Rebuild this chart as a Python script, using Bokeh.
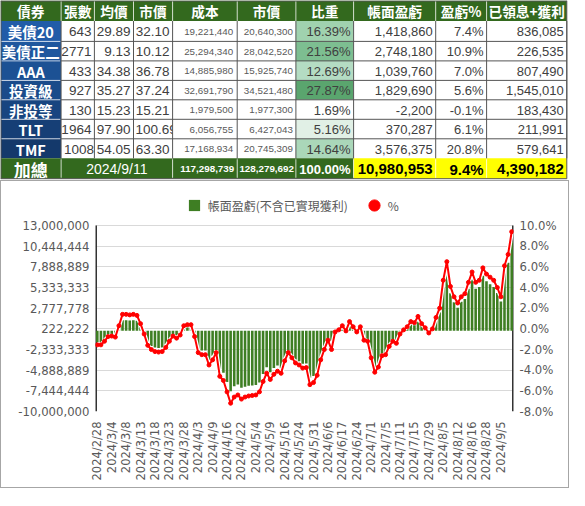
import math
from bokeh.plotting import figure
from bokeh.models import (Range1d, LinearAxis, FixedTicker, NumeralTickFormatter,
                          PrintfTickFormatter, Legend, LegendItem, ColumnDataSource)
from bokeh.layouts import column
from bokeh.embed import file_html
from bokeh.resources import INLINE
from bokeh.core.properties import value

# ---------------- table data ----------------
headers = ["債券", "張數", "均價", "市價", "成本", "市價", "比重", "帳面盈虧", "盈虧%", "已領息+獲利"]
names = ["美債20", "美債正二", "AAA", "投資級", "非投等", "TLT", "TMF"]
shares = [643, 2771, 433, 927, 130, 1964, 10084]
avg_price = [29.89, 9.13, 34.38, 35.27, 15.23, 97.90, 54.05]
mkt_price = [32.10, 10.12, 36.78, 37.24, 15.21, 100.69, 63.30]
cost = [19221440, 25294340, 14885980, 32691790, 1979500, 6056755, 17168934]
mkt_value = [20640300, 28042520, 15925740, 34521480, 1977300, 6427043, 20745309]
weight = [16.39, 21.56, 12.69, 27.87, 1.69, 5.16, 14.64]
pnl = [1418860, 2748180, 1039760, 1829690, -2200, 370287, 3576375]
pnl_pct = [7.4, 10.9, 7.0, 5.6, -0.1, 6.1, 20.8]
realized = [836085, 226535, 807490, 1545010, 183430, 211991, 579641]
total_label = "加總"
total_date = "2024/9/11"
total_cost = 117298739
total_value = 128279692
total_weight = 100.00
total_pnl = 10980953
total_pct = 9.4
total_realized = 4390182

# ---------------- chart data ----------------
date_labels = ["2024/2/28", "2024/3/4", "2024/3/8", "2024/3/13", "2024/3/18", "2024/3/23",
               "2024/3/28", "2024/4/3", "2024/4/9", "2024/4/16", "2024/4/22", "2024/5/4",
               "2024/5/9", "2024/5/16", "2024/5/24", "2024/5/31", "2024/6/6", "2024/6/17",
               "2024/6/24", "2024/7/1", "2024/7/5", "2024/7/11", "2024/7/15", "2024/7/29",
               "2024/8/5", "2024/8/12", "2024/8/16", "2024/8/28", "2024/9/5"]

pnl_series = [
    -1426000, -1426000, -1104000, -690000, -644000, -736000, 276000, 1288000, 1288000, 1242000,
    1288000, 1235000, 475000, -475000, -1520000, -1900000, -2090000, -2138000, -2090000, -1710000,
    -1140000, -686000, -882000, -588000, 294000, 392000, 392000, -735000, -2254000, -2450000,
    -2450000, -3640000, -3120000, -2392000, -4784000, -5200000, -6344000, -7488000, -6864000, -6656000,
    -7072000, -6930000, -6825000, -6773000, -6720000, -6405000, -5355000, -4515000, -5145000, -4620000,
    -4305000, -4644000, -3348000, -2484000, -3024000, -3564000, -3780000, -4104000, -4050000, -5832000,
    -5616000, -4950000, -3300000, -2200000, -1210000, -2200000, -330000, -110000, 330000, -220000,
    770000, 222000, -333000, 222000, -1221000, -1332000, -3108000, -4662000, -4107000, -2886000,
    -2775000, -1904000, -1344000, -1568000, -560000, -112000, 224000, 784000, 672000, 1344000,
    560000, 113000, -452000, 0, 1243000, 2260000, 5311000, 7345000, 4633000, 3503000,
    2825000, 3565000, 3910000, 5175000, 6325000, 5175000, 5405000, 6785000, 6095000, 5750000,
    5405000, 4660000, 3612000, 7107000, 8388000, 10980953,
]
pct_series = [
    -1.55, -1.55, -1.2, -0.75, -0.7, -0.8, 0.3, 1.4, 1.4, 1.35,
    1.4, 1.3, 0.5, -0.5, -1.6, -2.0, -2.2, -2.25, -2.2, -1.8,
    -1.2, -0.7, -0.9, -0.6, 0.3, 0.4, 0.4, -0.75, -2.3, -2.5,
    -2.5, -3.5, -3.0, -2.3, -4.6, -5.0, -6.1, -7.2, -6.6, -6.4,
    -6.8, -6.6, -6.5, -6.45, -6.4, -6.1, -5.1, -4.3, -4.9, -4.4,
    -4.1, -4.3, -3.1, -2.3, -2.8, -3.3, -3.5, -3.8, -3.75, -5.4,
    -5.2, -4.5, -3.0, -2.0, -1.1, -2.0, -0.3, -0.1, 0.3, -0.2,
    0.7, 0.2, -0.3, 0.2, -1.1, -1.2, -2.8, -4.2, -3.7, -2.6,
    -2.5, -1.7, -1.2, -1.4, -0.5, -0.1, 0.2, 0.7, 0.6, 1.2,
    0.5, 0.1, -0.4, 0.0, 1.1, 2.0, 4.7, 6.5, 4.1, 3.1,
    2.5, 3.1, 3.4, 4.5, 5.5, 4.5, 4.7, 5.9, 5.3, 5.0,
    4.7, 4.0, 3.1, 6.1, 7.2, 9.4,
]
left_ticks = [-10000000, -7444444, -4888889, -2333333, 222222, 2777778,
              5333333, 7888889, 10444444, 13000000]
pct_ticks = [-8, -6, -4, -2, 0, 2, 4, 6, 8, 10]
bar_label = "帳面盈虧(不含已實現獲利)"
line_label = "%"

# ---------------- styles ----------------
HDR_GREEN = "#33691E"
NAME_BLUES = ["#215CA8", "#1F579E", "#1C5194", "#1A4B8A", "#184580", "#163F76", "#14396B"]
WEIGHT_FILLS = ["#A0D2AF", "#7DBE91", "#B4DCC3", "#5AA56E", "#FFFFFF", "#E1F0E6", "#AAD7B9"]
YELLOW = "#FFFF00"
TXT = "#404040"
TXT2 = "#595959"
CJK = "Noto Sans CJK TC"
LAT = "Liberation Sans"

TW, TH = 569, 180
CE = [0, 60.6, 93.9, 133.0, 172.1, 236.7, 295.4, 353.1, 435.2, 486.1, 566.3]
RE = [0, 20.5, 40.9, 60.4, 79.9, 99.3, 118.8, 138.3, 157.8, 178.2]

t = figure(width=TW, height=TH, x_range=Range1d(0, TW), y_range=Range1d(TH, 0),
           toolbar_location=None, output_backend="svg", min_border=0,
           x_axis_location=None, y_axis_location=None)
t.frame_align = False
t.grid.visible = False
t.outline_line_color = None
t.background_fill_color = "white"
t.border_fill_color = "white"


def rc(r):
    return (RE[r] + RE[r + 1]) / 2 + 0.5


def quads(ls, rs, ts, bs, colors):
    t.quad(left=ls, right=rs, top=ts, bottom=bs, fill_color=colors, line_color=None)


def texts(xs, ys, ss, align, font, size, color, bold=False):
    if not ss:
        return
    t.text(x=xs, y=ys, text=ss, text_align=align, text_baseline="middle",
           text_font=value(font), text_font_size=value(size), text_color=color,
           text_font_style="bold" if bold else "normal")


def fmt_int(v):
    return f"{v:,}"


for c in range(10):
    l, r = CE[c], CE[c + 1]
    mid = (l + r) / 2
    ls, rs, ts, bs, cols = [l], [r], [RE[0]], [RE[1]], [HDR_GREEN]
    for i in range(7):
        ls.append(l); rs.append(r); ts.append(RE[i + 1]); bs.append(RE[i + 2])
        if c == 0:
            cols.append(NAME_BLUES[i])
        elif c == 6:
            cols.append(WEIGHT_FILLS[i])
        else:
            cols.append("#FFFFFF")
    if c == 1:
        ls.append(CE[1]); rs.append(CE[4]); ts.append(RE[8]); bs.append(RE[9]); cols.append(HDR_GREEN)
    elif c in (2, 3):
        pass
    elif c >= 7:
        ls.append(l); rs.append(r); ts.append(RE[8]); bs.append(RE[9]); cols.append(YELLOW)
    else:
        ls.append(l); rs.append(r); ts.append(RE[8]); bs.append(RE[9]); cols.append(HDR_GREEN)
    quads(ls, rs, ts, bs, cols)

    texts([mid], [rc(0)], [headers[c]], "center", CJK, "13.7px", "white", True)

    ys = [rc(i + 1) for i in range(7)]
    if c == 0:
        texts([mid] * 7, ys, names, "center", CJK, "14.5px", "white", True)
        texts([mid], [rc(8)], [total_label], "center", CJK, "17px", "white", True)
    elif c == 1:
        ra = [(r - 3, ys[i], str(v)) for i, v in enumerate(shares) if v < 10000]
        la = [(l + 3, ys[i], str(v)) for i, v in enumerate(shares) if v >= 10000]
        texts([a[0] for a in ra], [a[1] for a in ra], [a[2] for a in ra], "right", LAT, "13.5px", TXT)
        texts([a[0] for a in la], [a[1] for a in la], [a[2] for a in la], "left", LAT, "13.5px", TXT)
        texts([(CE[1] + CE[4]) / 2], [rc(8)], [total_date], "center", LAT, "14px", "white")
    elif c == 2:
        texts([r - 3] * 7, ys, [f"{v:.2f}" for v in avg_price], "right", LAT, "13.5px", TXT)
    elif c == 3:
        ra = [(r - 3, ys[i], f"{v:.2f}") for i, v in enumerate(mkt_price) if v < 100]
        la = [(l + 2, ys[i], f"{v:.2f}") for i, v in enumerate(mkt_price) if v >= 100]
        texts([a[0] for a in ra], [a[1] for a in ra], [a[2] for a in ra], "right", LAT, "13.5px", TXT)
        texts([a[0] for a in la], [a[1] for a in la], [a[2] for a in la], "left", LAT, "13.5px", TXT)
    elif c == 4:
        texts([r - 4] * 7, ys, [fmt_int(v) for v in cost], "right", LAT, "9.8px", TXT2)
        texts([r - 3], [rc(8)], [fmt_int(total_cost)], "right", LAT, "9.8px", "white", True)
    elif c == 5:
        texts([r - 3] * 7, ys, [fmt_int(v) for v in mkt_value], "right", LAT, "9.8px", TXT2)
        texts([r - 2], [rc(8)], [fmt_int(total_value)], "right", LAT, "9.8px", "white", True)
    elif c == 6:
        texts([r - 3] * 7, ys, [f"{v:.2f}%" for v in weight], "right", LAT, "13px", TXT)
        texts([r - 3], [rc(8)], [f"{total_weight:.2f}%"], "right", LAT, "13px", "white", True)
    elif c == 7:
        texts([r - 3] * 7, ys, [fmt_int(v) for v in pnl], "right", LAT, "13px", TXT)
        texts([r - 3], [rc(8)], [fmt_int(total_pnl)], "right", LAT, "15px", "black", True)
    elif c == 8:
        texts([r - 3] * 7, ys, [f"{v:.1f}%" for v in pnl_pct], "right", LAT, "13px", TXT)
        texts([r - 3], [rc(8)], [f"{total_pct:.1f}%"], "right", LAT, "15px", "black", True)
    elif c == 9:
        texts([r - 3] * 7, ys, [fmt_int(v) for v in realized], "right", LAT, "13px", TXT)
        texts([r - 3], [rc(8)], [fmt_int(total_realized)], "right", LAT, "15px", "black", True)

dx0, dy0, dx1, dy1 = [], [], [], []
for k in range(2, 8):
    dx0.append(CE[1]); dx1.append(CE[10]); dy0.append(RE[k]); dy1.append(RE[k])
for k in range(1, 11):
    dx0.append(CE[k]); dx1.append(CE[k]); dy0.append(RE[1]); dy1.append(RE[8])
dx0 += [CE[0], CE[0], CE[0] + 0.5, CE[10]]
dx1 += [CE[10], CE[10], CE[0] + 0.5, CE[10]]
dy0 += [RE[0] + 0.5, RE[9], RE[0], RE[0]]
dy1 += [RE[0] + 0.5, RE[9], RE[9], RE[9]]
t.segment(x0=dx0, y0=dy0, x1=dx1, y1=dy1, line_color="#555555", line_width=1)
wx0, wy0, wx1, wy1 = [], [], [], []
for k in range(1, 10):
    wx0.append(CE[k]); wx1.append(CE[k]); wy0.append(RE[0] + 1); wy1.append(RE[1])
for k in range(2, 8):
    wx0.append(CE[0] + 1); wx1.append(CE[1] - 1); wy0.append(RE[k]); wy1.append(RE[k])
for k in [1, 4, 5, 6, 7, 8, 9]:
    wx0.append(CE[k]); wx1.append(CE[k]); wy0.append(RE[8] + 1); wy1.append(RE[9] - 1)
t.segment(x0=wx0, y0=wy0, x1=wx1, y1=wy1, line_color="#FFFFFF", line_width=1, line_alpha=0.7)

# ---------------- chart ----------------
N = len(pnl_series)
BAR_GREEN = "#3E7E23"
PW, PH = 569, 308
B_LEFT, B_RIGHT, B_BOTTOM = 94, 57, 78
TOP_PAD = 44                      # legend strip above the 13,000,000 line (px)
FRAME_H = PH - B_BOTTOM
DATA_H = FRAME_H - TOP_PAD
l_span = left_ticks[-1] - left_ticks[0]
r_span = pct_ticks[-1] - pct_ticks[0]
y_top = left_ticks[-1] + l_span * TOP_PAD / DATA_H
pct_top = pct_ticks[-1] + r_span * TOP_PAD / DATA_H

p = figure(width=PW, height=PH, x_range=Range1d(-0.5, N - 0.5),
           y_range=Range1d(left_ticks[0], y_top),
           toolbar_location=None, output_backend="svg",
           min_border_left=B_LEFT, min_border_right=B_RIGHT, min_border_top=0,
           min_border_bottom=B_BOTTOM)
p.frame_align = False
p.extra_y_ranges = {"pct": Range1d(pct_ticks[0], pct_top)}
p.outline_line_color = None
p.background_fill_color = "white"
p.border_fill_color = "white"
p.styles = {"border": "1px solid #a6a6a6"}

p.xgrid.visible = False
p.ygrid.ticker = FixedTicker(ticks=left_ticks)
p.ygrid.grid_line_color = "#D9D9D9"
p.ygrid.grid_line_width = 1

ya = p.yaxis[0]
ya.ticker = FixedTicker(ticks=left_ticks)
ya.formatter = NumeralTickFormatter(format="0,0")
ra = LinearAxis(y_range_name="pct", ticker=FixedTicker(ticks=pct_ticks),
                formatter=PrintfTickFormatter(format="%.1f%%"))
p.add_layout(ra, "right")
for ax in (ya, ra):
    ax.axis_line_color = None
    ax.major_tick_line_color = None
    ax.minor_tick_line_color = None
    ax.major_tick_out = 0
    ax.major_tick_in = 0
    ax.major_label_standoff = 6
    ax.major_label_text_font = "DejaVu Sans"
    ax.major_label_text_font_size = "11.7px"
    ax.major_label_text_color = TXT2

xa = p.xaxis[0]
tick_pos = [4 * k for k in range(len(date_labels))]
xa.ticker = FixedTicker(ticks=tick_pos)
xa.major_label_overrides = {pos: lab for pos, lab in zip(tick_pos, date_labels)}
xa.major_label_orientation = math.pi / 2
xa.axis_line_color = None
xa.major_tick_line_color = None
xa.minor_tick_line_color = None
xa.major_tick_out = 0
xa.major_tick_in = 0
xa.major_label_standoff = 10
xa.major_label_text_font = "DejaVu Sans"
xa.major_label_text_font_size = "11.5px"
xa.major_label_text_color = TXT2

# vertical axis lines, spanning only the tick range
p.segment(x0=[-0.5, N - 0.5], y0=[left_ticks[0]] * 2, x1=[-0.5, N - 0.5], y1=[left_ticks[-1]] * 2,
          line_color="#333333", line_width=3)

src = ColumnDataSource(dict(x=list(range(N)), bar=pnl_series, pct=pct_series))
vb = p.vbar(x="x", top="bar", width=0.72, source=src, fill_color=BAR_GREEN, line_color=None)
p.line("x", "pct", source=src, y_range_name="pct", line_color="white", line_width=4.5)
p.line("x", "pct", source=src, y_range_name="pct", line_color="#FF0000", line_width=2)
sc = p.scatter("x", "pct", source=src, y_range_name="pct", size=4,
               fill_color="#FF0000", line_color="#FF0000")
# legend swatch for the bars (zero-size square markers on the bar values)
sw = p.scatter("x", "bar", source=src, size=0, marker="square",
               fill_color=BAR_GREEN, line_color=None)

leg = Legend(items=[LegendItem(label=bar_label, renderers=[sw]),
                    LegendItem(label=line_label, renderers=[sc])],
             location=(84.7, FRAME_H - 38), orientation="horizontal",
             glyph_width=28, glyph_height=28, label_standoff=0, spacing=12,
             padding=0, margin=0, border_line_color=None, background_fill_alpha=0,
             label_text_font=CJK, label_text_font_size="12px", label_text_color=TXT2)
p.add_layout(leg)

open("out.html", "w").write(file_html(column(t, p), INLINE))
